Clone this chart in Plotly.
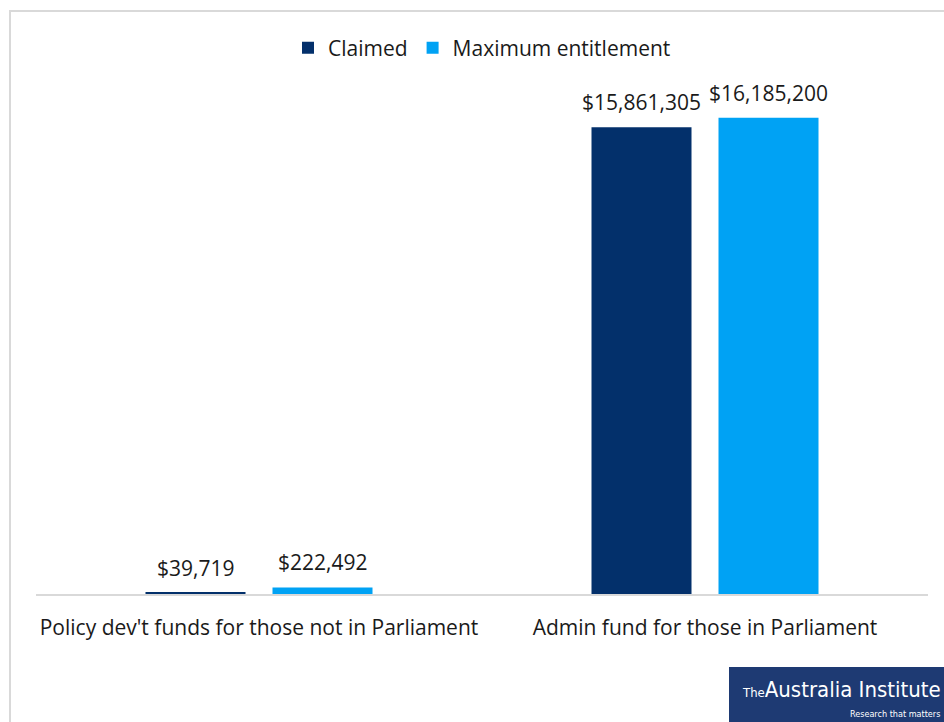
import plotly.graph_objects as go

# Category labels and series values
categories = ["Policy dev't funds for those not in Parliament", "Admin fund for those in Parliament"]
claimed = [39719, 15861305]
max_entitlement = [222492, 16185200]

series_names = ["Claimed", "Maximum entitlement"]
colors = ["#03306B", "#00A2F4"]

FONT = "'Open Sans', 'Noto Sans', sans-serif"
TEXT_COLOR = "#1a1a1a"
FS = 21

W, H = 944, 722
ML, MR, MT, MB = 36, 16, 79, 128
plot_w = W - ML - MR
plot_h = H - MT - MB


def px_x(p):
    return (p - ML) / plot_w


def px_y(p):
    return (H - MB - p) / plot_h


def money(v):
    return "${:,}".format(v)


fig = go.Figure()
for name, vals, col in zip(series_names, [claimed, max_entitlement], colors):
    fig.add_trace(go.Bar(
        name=name,
        x=categories,
        y=vals,
        marker=dict(color=col, line=dict(width=0)),
        cliponaxis=False,
    ))

# Value labels placed above each bar (bar slot is 127 px wide within a group)
slot = 127
annotations = []
for i, vals in enumerate([claimed, max_entitlement]):
    offset = (i - 0.5) * slot
    for cat, v in zip(categories, vals):
        annotations.append(dict(
            x=cat, y=v, xref="x", yref="y", text=money(v), showarrow=False,
            xanchor="center", yanchor="middle", xshift=offset, yshift=25,
            font=dict(family=FONT, size=FS, color=TEXT_COLOR),
        ))

shapes = [
    # outer frame of the chart area
    dict(type="rect", xref="paper", yref="paper",
         x0=px_x(10), x1=1.2, y0=-0.5, y1=px_y(11),
         line=dict(color="#d9d9d9", width=2), fillcolor="rgba(0,0,0,0)", layer="below"),
    # logo block
    dict(type="rect", xref="paper", yref="paper",
         x0=px_x(729), x1=1.2, y0=-0.5, y1=px_y(667),
         line=dict(width=0), fillcolor="#1E3A73", layer="above"),
]

annotations += [
    dict(xref="paper", yref="paper", x=px_x(740), y=px_y(689), xanchor="left", yanchor="middle",
         text="<span style='font-size:13px'>The</span>Australia Institute", showarrow=False,
         font=dict(family="'DejaVu Sans Condensed', Roboto, sans-serif", size=22, color="white")),
    dict(xref="paper", yref="paper", x=px_x(942), y=px_y(714), xanchor="right", yanchor="middle",
         text="Research that matters", showarrow=False,
         font=dict(family="'DejaVu Sans Condensed', Roboto, sans-serif", size=9, color="white")),
]

fig.update_layout(
    width=W, height=H,
    margin=dict(l=ML, r=MR, t=MT, b=MB),
    paper_bgcolor="white", plot_bgcolor="white",
    barmode="group", bargap=0.4305, bargroupgap=0.2126,
    showlegend=True,
    legend=dict(orientation="h", x=0.5, xanchor="center", y=px_y(48), yanchor="middle",
                font=dict(family=FONT, size=FS, color=TEXT_COLOR),
                itemwidth=30, traceorder="normal"),
    xaxis=dict(showline=True, linecolor="#d9d9d9", linewidth=2, ticks="",
               tickfont=dict(family=FONT, size=FS, color=TEXT_COLOR),
               ticklabelstandoff=14),
    yaxis=dict(range=[0, 17500000], visible=False, showgrid=False, zeroline=False),
    shapes=shapes,
    annotations=annotations,
)

fig.write_html("out.html")
